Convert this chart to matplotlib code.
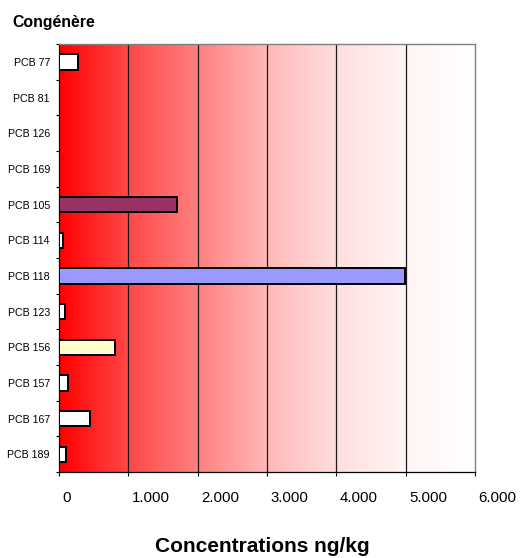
import numpy as np
import matplotlib.pyplot as plt
from matplotlib.colors import LinearSegmentedColormap
import matplotlib.transforms as mtransforms

# ============================================================
# DATA
# ============================================================

congeners = ["PCB 77", "PCB 81", "PCB 126", "PCB 169", "PCB 105", "PCB 114",
             "PCB 118", "PCB 123", "PCB 156", "PCB 157", "PCB 167", "PCB 189"]

concentrations = [270, 0, 0, 0, 1700, 60, 4990, 85, 810, 130, 450, 105]

bar_colors = ["#FFFFFF", "#FFFFFF", "#FFFFFF", "#FFFFFF", "#993366", "#FFFFFF",
              "#9999FF", "#FFFFFF", "#FFFFCC", "#FFFFFF", "#FFFFFF", "#FFFFFF"]

x_ticks = [0, 1000, 2000, 3000, 4000, 5000, 6000]
x_ticklabels = ["0", "1.000", "2.000", "3.000", "4.000", "5.000", "6.000"]

# ============================================================
# FIGURE
# ============================================================

plt.rcParams["font.family"] = ["Liberation Sans", "DejaVu Sans"]

fig = plt.figure(figsize=(5.2, 5.58), dpi=100)
ax = fig.add_axes([0.1135, 0.1541, 0.8, 0.767])

# background gradient red -> white
grad_cmap = LinearSegmentedColormap.from_list(
    "redwhite",
    [(0.0, (1, 0, 0)),
     (1 / 6, (1, 72 / 255, 72 / 255)),
     (2 / 6, (1, 128 / 255, 128 / 255)),
     (3 / 6, (1, 184 / 255, 184 / 255)),
     (4 / 6, (1, 222 / 255, 222 / 255)),
     (5 / 6, (1, 245 / 255, 245 / 255)),
     (1.0, (1, 1, 1))]
)
gradient = np.linspace(0, 1, 512).reshape(1, -1)
ax.imshow(gradient, aspect="auto", cmap=grad_cmap,
          extent=[0, 6000, len(congeners) - 0.5, -0.5], zorder=0)

# vertical gridlines
for xv in x_ticks[1:-1]:
    ax.axvline(xv, color="#1a1a1a", lw=0.9, zorder=1)

y = np.arange(len(congeners))
ax.barh(y, concentrations, height=0.43, color=bar_colors,
        edgecolor="black", linewidth=1.4, zorder=3)

ax.set_xlim(0, 6000)
ax.set_ylim(len(congeners) - 0.5, -0.5)

# ============================================================
# AXES
# ============================================================

ax.set_yticks(y)
ax.set_yticklabels(congeners, fontsize=7.7)
ax.set_yticks(np.arange(len(congeners) + 1) - 0.5, minor=True)
ax.tick_params(axis="y", which="major", length=0, pad=6.5)
ax.tick_params(axis="y", which="minor", length=2.5, width=0.8, direction="out")

ax.set_xticks(x_ticks)
ax.set_xticklabels(x_ticklabels, fontsize=10.8)
ax.tick_params(axis="x", length=3, width=0.8, direction="out", pad=11)
offset = mtransforms.ScaledTranslation(2.5 / 72, 0, fig.dpi_scale_trans)
for lab in ax.get_xticklabels():
    lab.set_horizontalalignment("left")
    lab.set_transform(lab.get_transform() + offset)

for side in ["left", "bottom"]:
    ax.spines[side].set_color("black")
    ax.spines[side].set_linewidth(0.9)
for side in ["top", "right"]:
    ax.spines[side].set_color("#808080")
    ax.spines[side].set_linewidth(1.0)

fig.text(12 / 520, 1 - 22 / 558, "Congénère", fontsize=11.4,
         fontweight="bold", ha="left", va="center")

fig.text(262 / 520, 1 - 546 / 558, "Concentrations ng/kg", fontsize=15,
         fontweight="bold", ha="center", va="center")

plt.savefig("out.png", dpi=100)
plt.close()
